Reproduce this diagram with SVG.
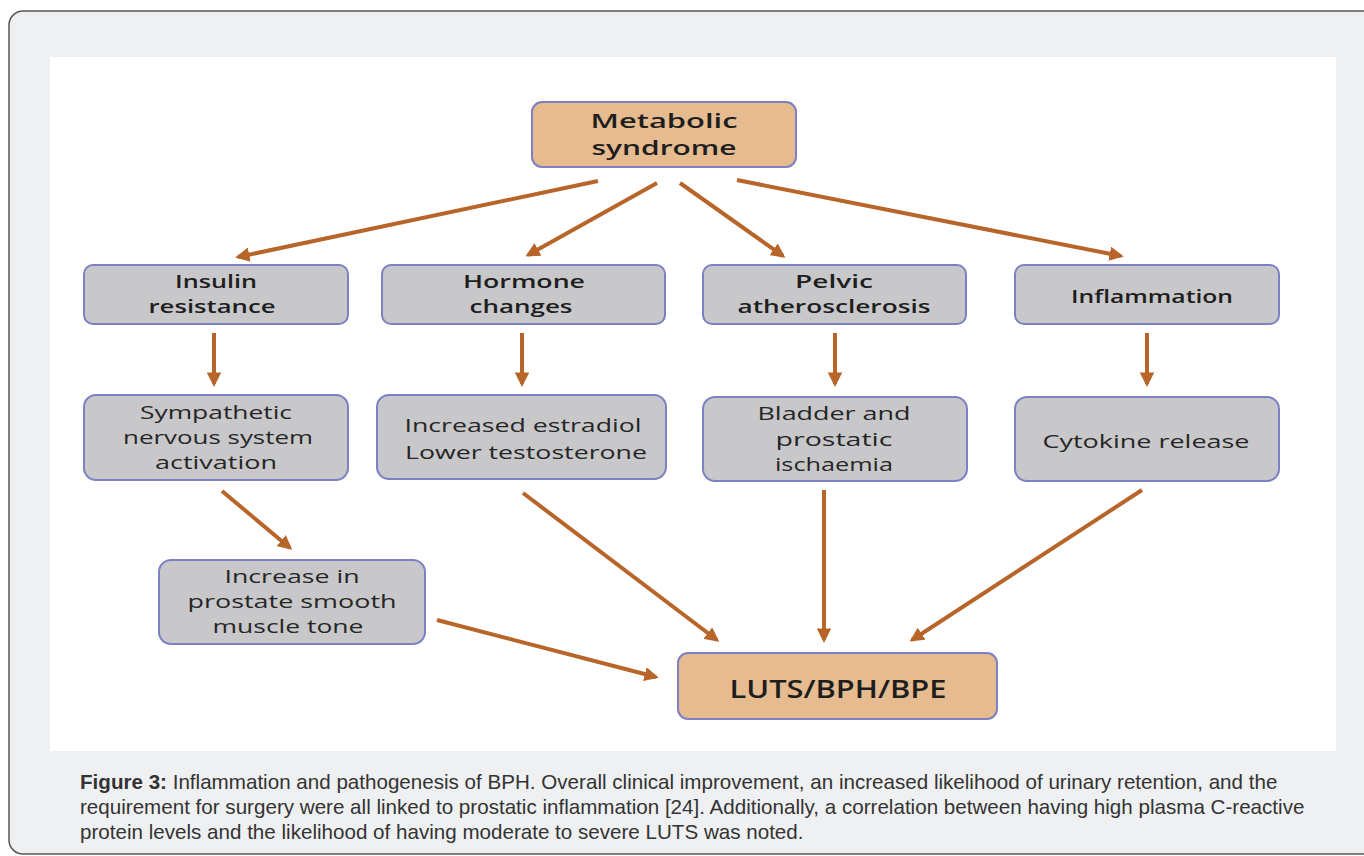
<svg xmlns="http://www.w3.org/2000/svg" width="1364" height="856" viewBox="0 0 1364 856">
<defs>
<marker id="ah" viewBox="0 0 10 10" refX="8" refY="5" markerWidth="3.6" markerHeight="3.6" orient="auto" markerUnits="strokeWidth">
<path d="M0,0 L10,5 L0,10 z" fill="#b8652a"/>
</marker>
</defs>
<style>
.frame{fill:#eff0f2;stroke:#555;stroke-width:1.5}
.tan{fill:#e5bb8f;stroke:#7d80c2;stroke-width:2}
.gray{fill:#c8c8ca;stroke:#7d80c2;stroke-width:2}
.t{font-family:"Open Sans","Noto Sans",sans-serif;fill:#1e1e1e;text-anchor:middle}
.b{font-weight:600;font-size:18.5px}
.r{font-weight:400;font-size:18.5px;fill:#262626}
.big{font-weight:600;font-size:20px}
.lu{font-weight:600;font-size:25px}
.cap{font-family:"Liberation Sans",Arial,sans-serif;font-size:20.6px;fill:#333}
.c{stroke:#b8652a;stroke-width:4;fill:none;marker-end:url(#ah)}
</style>
<rect class="frame" x="9" y="11" width="1380" height="843" rx="14"/>
<rect x="50" y="57" width="1286" height="694" fill="#ffffff"/>

<g id="connectors">
<line class="c" x1="598" y1="181" x2="238" y2="257"/>
<line class="c" x1="657" y1="183" x2="528" y2="255"/>
<line class="c" x1="680" y1="183" x2="783" y2="256"/>
<line class="c" x1="737" y1="180" x2="1121" y2="256"/>
<line class="c" x1="214" y1="333" x2="214" y2="384"/>
<line class="c" x1="522" y1="333" x2="522" y2="384"/>
<line class="c" x1="835" y1="333" x2="835" y2="384"/>
<line class="c" x1="1147" y1="333" x2="1147" y2="384"/>
<line class="c" x1="222" y1="491" x2="290" y2="548"/>
<line class="c" x1="523" y1="493" x2="717" y2="640"/>
<line class="c" x1="824" y1="490" x2="824" y2="640"/>
<line class="c" x1="1142" y1="490" x2="912" y2="640"/>
<line class="c" x1="437" y1="620" x2="656" y2="677"/>
</g>

<g id="metabolic">
<rect class="tan" x="532" y="102" width="264" height="65" rx="10"/>
<text class="t big" x="664" y="128" textLength="147" lengthAdjust="spacingAndGlyphs">Metabolic</text>
<text class="t big" x="664" y="155" textLength="145" lengthAdjust="spacingAndGlyphs">syndrome</text>
</g>
<g id="insulin">
<rect class="gray" x="84" y="265" width="264" height="59" rx="9"/>
<text class="t b" x="216" y="288" textLength="82" lengthAdjust="spacingAndGlyphs">Insulin</text>
<text class="t b" x="212" y="313" textLength="127" lengthAdjust="spacingAndGlyphs">resistance</text>
</g>
<g id="hormone">
<rect class="gray" x="382" y="265" width="283" height="59" rx="9"/>
<text class="t b" x="524" y="288" textLength="122" lengthAdjust="spacingAndGlyphs">Hormone</text>
<text class="t b" x="521" y="313" textLength="103" lengthAdjust="spacingAndGlyphs">changes</text>
</g>
<g id="pelvic">
<rect class="gray" x="703" y="265" width="263" height="59" rx="9"/>
<text class="t b" x="834" y="288" textLength="78" lengthAdjust="spacingAndGlyphs">Pelvic</text>
<text class="t b" x="834" y="313" textLength="193" lengthAdjust="spacingAndGlyphs">atherosclerosis</text>
</g>
<g id="inflammation">
<rect class="gray" x="1015" y="265" width="264" height="59" rx="9"/>
<text class="t b" x="1152" y="303" textLength="162" lengthAdjust="spacingAndGlyphs">Inflammation</text>
</g>
<g id="sympathetic">
<rect class="gray" x="84" y="395" width="264" height="85" rx="12"/>
<text class="t r" x="216" y="419" textLength="152" lengthAdjust="spacingAndGlyphs">Sympathetic</text>
<text class="t r" x="218" y="444" textLength="190" lengthAdjust="spacingAndGlyphs">nervous system</text>
<text class="t r" x="216" y="469" textLength="122" lengthAdjust="spacingAndGlyphs">activation</text>
</g>
<g id="estradiol">
<rect class="gray" x="377" y="395" width="289" height="84" rx="12"/>
<text class="t r" x="523" y="432" textLength="237" lengthAdjust="spacingAndGlyphs">Increased estradiol</text>
<text class="t r" x="526" y="459" textLength="242" lengthAdjust="spacingAndGlyphs">Lower testosterone</text>
</g>
<g id="bladder">
<rect class="gray" x="703" y="397" width="264" height="84" rx="12"/>
<text class="t r" x="834" y="420" textLength="153" lengthAdjust="spacingAndGlyphs">Bladder and</text>
<text class="t r" x="834" y="446" textLength="117" lengthAdjust="spacingAndGlyphs">prostatic</text>
<text class="t r" x="834" y="471" textLength="118" lengthAdjust="spacingAndGlyphs">ischaemia</text>
</g>
<g id="cytokine">
<rect class="gray" x="1015" y="397" width="264" height="84" rx="12"/>
<text class="t r" x="1146" y="448" textLength="207" lengthAdjust="spacingAndGlyphs">Cytokine release</text>
</g>
<g id="smooth">
<rect class="gray" x="159" y="560" width="266" height="84" rx="12"/>
<text class="t r" x="292" y="583" textLength="135" lengthAdjust="spacingAndGlyphs">Increase in</text>
<text class="t r" x="292" y="608" textLength="209" lengthAdjust="spacingAndGlyphs">prostate smooth</text>
<text class="t r" x="288" y="633" textLength="151" lengthAdjust="spacingAndGlyphs">muscle tone</text>
</g>
<g id="luts">
<rect class="tan" x="678" y="653" width="319" height="66" rx="10"/>
<text class="t lu" x="838" y="698" textLength="217" lengthAdjust="spacingAndGlyphs">LUTS/BPH/BPE</text>
</g>

<g id="caption">
<text class="cap" x="80" y="789"><tspan font-weight="bold">Figure 3:</tspan> Inflammation and pathogenesis of BPH. Overall clinical improvement, an increased likelihood of urinary retention, and the</text>
<text class="cap" x="80" y="814">requirement for surgery were all linked to prostatic inflammation [24]. Additionally, a correlation between having high plasma C-reactive</text>
<text class="cap" x="80" y="839">protein levels and the likelihood of having moderate to severe LUTS was noted.</text>
</g>
</svg>
